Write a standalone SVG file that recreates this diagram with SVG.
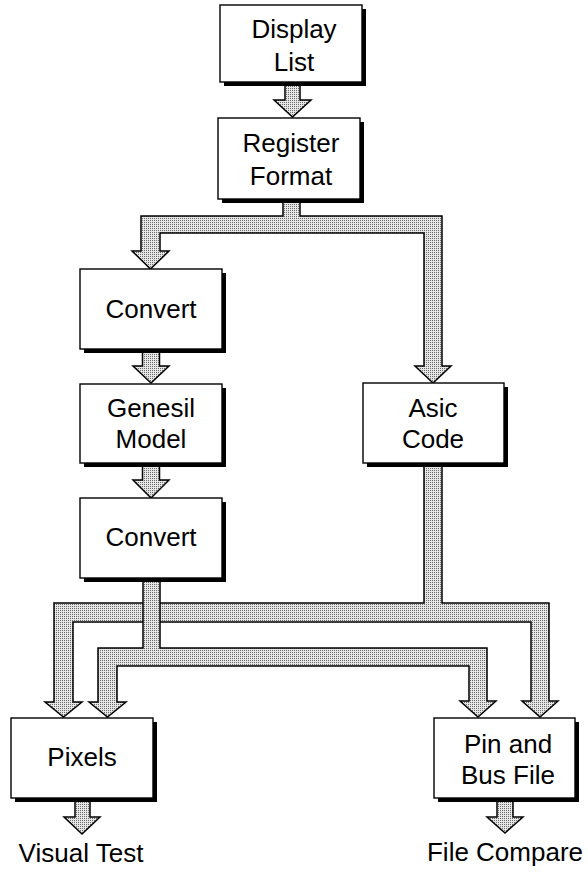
<svg xmlns="http://www.w3.org/2000/svg" width="588" height="874" viewBox="0 0 588 874">
<defs>
<pattern id="dots" width="2" height="2" patternUnits="userSpaceOnUse">
<rect width="2" height="2" fill="#e6e6e6"/>
<rect width="1" height="1" fill="#6a6a6a"/>
</pattern>
</defs>
<style>
.arrow{fill:url(#dots);stroke:#000;stroke-width:1.5;stroke-linejoin:miter}
.shadow{fill:#000}
.box{fill:#fff;stroke:#000;stroke-width:1.4}
text{font-family:"Liberation Sans",Arial,Helvetica,sans-serif;font-size:26px;fill:#000;text-anchor:middle}
</style>
<rect width="588" height="874" fill="#fff"/>
<g id="connectors">
<path class="arrow" d="M285,78 L285,100 L274,100 L292.5,117 L311,100 L300,100 L300,78"/>
<path class="arrow" d="M283,195 L283,216 L141,216 L141,251 L132,251 L150.5,269 L169,251 L160,251 L160,233 L424,233 L424,366 L415,366 L433,383 L451,366 L442,366 L442,216 L300,216 L300,195"/>
<path class="arrow" d="M142.5,345 L142.5,366 L133,366 L151,383 L169,366 L159.5,366 L159.5,345"/>
<path class="arrow" d="M142.5,460 L142.5,480 L133,480 L151,498 L169,480 L159.5,480 L159.5,460"/>
<path class="arrow" d="M424,458 L424,603 L54,603 L54,702 L45,702 L63.5,717 L82,702 L73,702 L73,622 L531,622 L531,701 L522,701 L540,717 L558,701 L549,701 L549,603 L442,603 L442,458"/>
<path class="arrow" d="M143,574 L143,648 L98,648 L98,702 L89,702 L107.5,717 L126,702 L117,702 L117,666 L469,666 L469,701 L460,701 L478,717 L496,701 L487,701 L487,648 L160,648 L160,574"/>
<path class="arrow" d="M75,795 L75,817 L64,817 L82,834 L100,817 L90,817 L90,795"/>
<path class="arrow" d="M497,795 L497,817 L487,817 L505,833 L523,817 L513,817 L513,795"/>
</g>
<g id="display-list">
<rect class="shadow" x="224" y="9" width="142" height="77"/>
<rect class="box" x="220" y="5" width="142" height="77"/>
<text x="294" y="38">Display</text>
<text x="294" y="71">List</text>
</g>
<g id="register-format">
<rect class="shadow" x="222" y="122" width="142" height="81"/>
<rect class="box" x="218" y="118" width="142" height="81"/>
<text x="291" y="152">Register</text>
<text x="291" y="185">Format</text>
</g>
<g id="convert-1">
<rect class="shadow" x="84" y="273" width="142" height="80"/>
<rect class="box" x="80" y="269" width="142" height="80"/>
<text x="151" y="318">Convert</text>
</g>
<g id="genesil-model">
<rect class="shadow" x="84" y="388" width="142" height="79"/>
<rect class="box" x="80" y="384" width="142" height="79"/>
<text x="151" y="417">Genesil</text>
<text x="151" y="448">Model</text>
</g>
<g id="convert-2">
<rect class="shadow" x="84" y="502" width="142" height="80"/>
<rect class="box" x="80" y="498" width="142" height="80"/>
<text x="151" y="546">Convert</text>
</g>
<g id="asic-code">
<rect class="shadow" x="367" y="387" width="141" height="80"/>
<rect class="box" x="363" y="383" width="141" height="80"/>
<text x="433" y="417">Asic</text>
<text x="433" y="448">Code</text>
</g>
<g id="pixels">
<rect class="shadow" x="15" y="722" width="142" height="80"/>
<rect class="box" x="11" y="718" width="142" height="80"/>
<text x="82" y="766">Pixels</text>
</g>
<g id="pin-and-bus-file">
<rect class="shadow" x="438" y="722" width="141" height="80"/>
<rect class="box" x="434" y="718" width="141" height="80"/>
<text x="508" y="753">Pin and</text>
<text x="508" y="784">Bus File</text>
</g>
<g id="visual-test">
<text x="81" y="862">Visual Test</text>
</g>
<g id="file-compare">
<text x="505" y="861">File Compare</text>
</g>
</svg>
